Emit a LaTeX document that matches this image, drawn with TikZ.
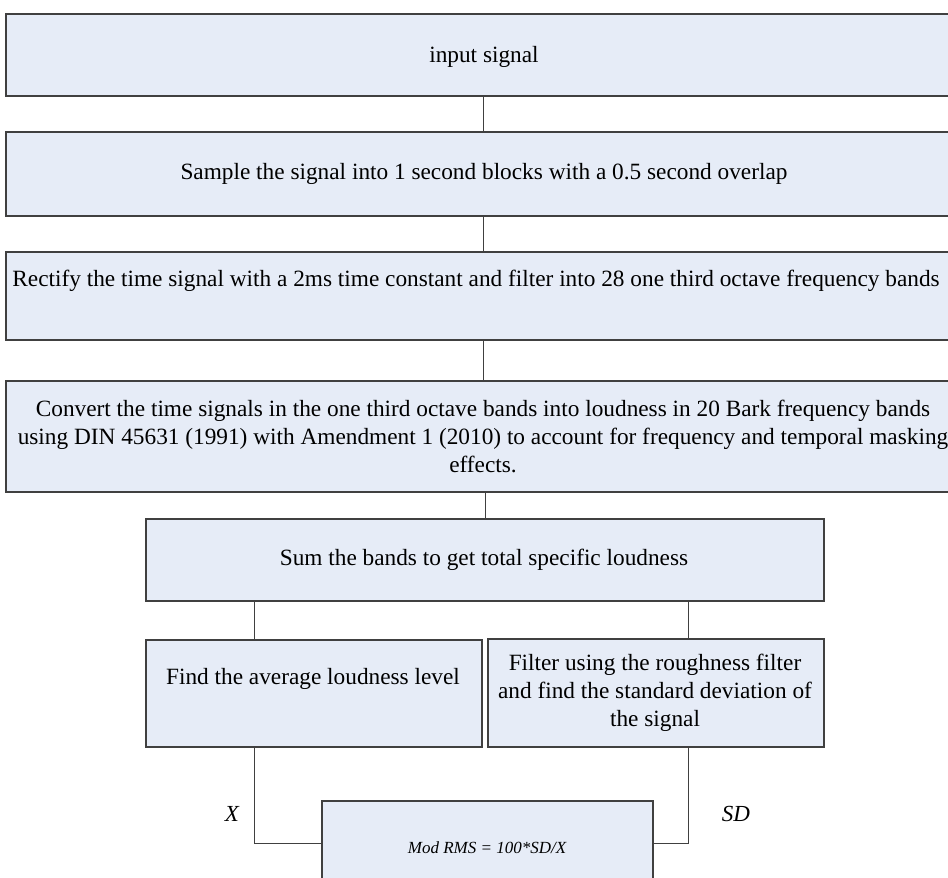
\documentclass[tikz,border=0pt]{standalone}
\usepackage{fontspec}
\setmainfont{Liberation Serif}
\definecolor{boxfill}{HTML}{E6ECF7}
\definecolor{boxline}{HTML}{404040}
\begin{document}
\begin{tikzpicture}[x=1pt,y=-1pt,
  box/.style={draw=boxline,line width=1.6pt,fill=boxfill,inner sep=0pt},
  txt/.style={font=\fontsize{23.3}{28}\selectfont,align=center,inner sep=0pt},
  tag/.style={font=\fontsize{23}{28}\selectfont\itshape,inner sep=0pt},
  link/.style={draw=boxline,line width=1pt}]
\useasboundingbox (0,0) rectangle (948,878);
\clip (0,0) rectangle (948,878);
% process boxes, laid out from the top
\node[box,minimum width=954pt,minimum height=82pt]  (b1) at (483,55)  {};
\node[box,minimum width=954pt,minimum height=84pt]  (b2) at (483,174) {};
\node[box,minimum width=954pt,minimum height=88pt]  (b3) at (483,296) {};
\node[box,minimum width=954pt,minimum height=111pt] (b4) at (483,436.5) {};
\node[box,minimum width=678pt,minimum height=82pt]  (b5) at (485,560) {};
\node[box,minimum width=336pt,minimum height=107pt] (b6) at (314,693.5) {};
\node[box,minimum width=336pt,minimum height=108pt] (b7) at (656,693) {};
\node[box,minimum width=331pt,minimum height=100pt] (b8) at (487.5,851) {};
% box texts
\node[txt] (t1) at (484,57)  {input signal};
\node[txt] (t2) at (484,174) {Sample the signal into 1 second blocks with a 0.5 second overlap};
\node[txt] (t3) at (476,281) {Rectify the time signal with a 2ms time constant and filter into 28 one third octave frequency bands};
\node[txt] (t4) at (483,436) {Convert the time signals in the one third octave bands into loudness in 20 Bark frequency bands\\
  using DIN 45631 (1991) with Amendment 1 (2010) to account for frequency and temporal masking\\ effects.};
\node[txt] (t5) at (484,560) {Sum the bands to get total specific loudness};
\node[txt] (t6) at (313,679) {Find the average loudness level};
\node[txt] (t7) at (655,693) {Filter using the roughness filter\\ and find the standard deviation of\\ the signal};
\node[txt,font=\fontsize{17}{20}\selectfont\itshape] (t8) at (487,848) {Mod RMS = 100*SD/X};
% connectors
\draw[link] (b1.south) -- (b2.north);
\draw[link] (b2.south) -- (b3.north);
\draw[link] (b3.south) -- (b4.north);
\draw[link] (b4.south -| b5.north) -- (b5.north);
\draw[link] (b5.south -| 254,0) -- (b6.north -| 254,0);
\draw[link] (b5.south -| 688,0) -- (b7.north -| 688,0);
\coordinate (jx) at (254,843);
\coordinate (js) at (688,843);
\draw[link] (b6.south -| jx) -- (jx) -- (jx -| b8.west);
\draw[link] (b7.south -| js) -- (js) -- (js -| b8.east);
% signal labels
\node[tag] (lx) at (232,814) {X};
\node[tag] (ls) at (736,814) {SD};
\end{tikzpicture}
\end{document}
